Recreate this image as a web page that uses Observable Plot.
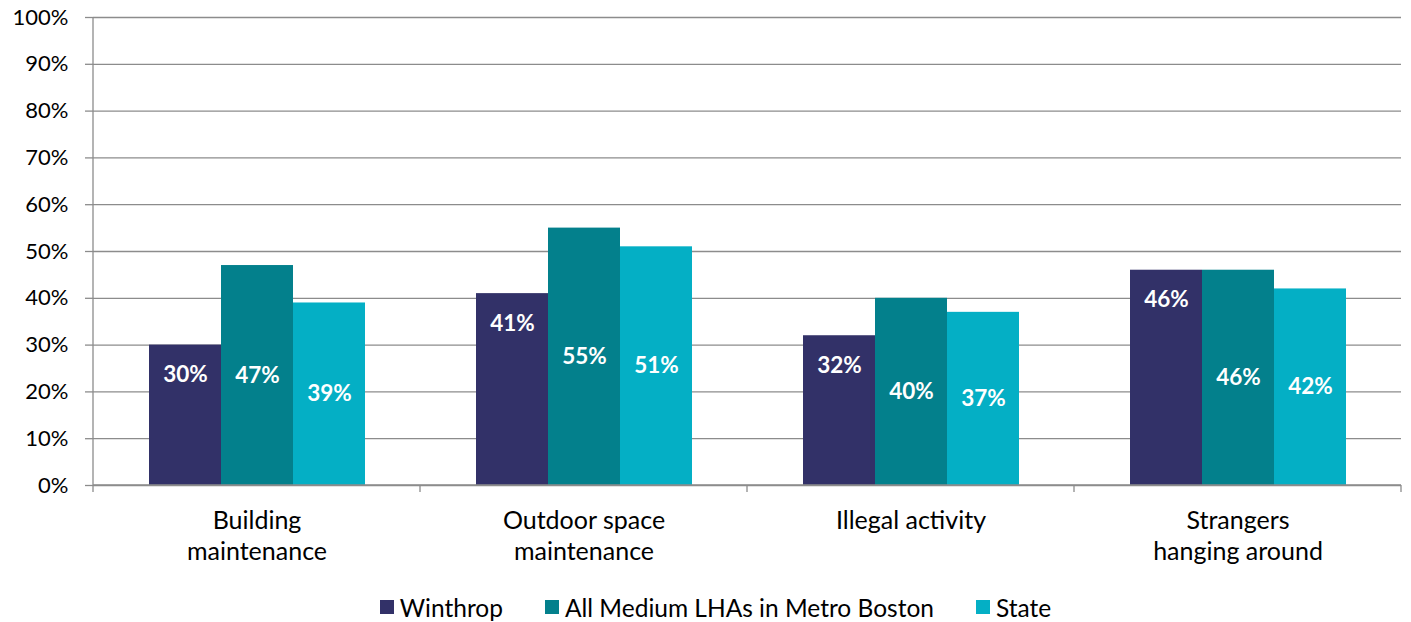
<!DOCTYPE html>
<html><head><meta charset="utf-8">
<script src="https://cdn.jsdelivr.net/npm/d3@7"></script>
<script src="https://cdn.jsdelivr.net/npm/@observablehq/plot@0.6"></script>
<style>
body{margin:0;background:#fff;font-family:Lato,"Open Sans",sans-serif;}
#legend{display:flex;justify-content:center;align-items:center;height:36px;margin-top:3px;font-size:24.5px;color:#000;padding-left:20px;}
.item{display:flex;align-items:center;margin:0 21px;}
.sw{width:14px;height:14px;margin-right:6px;}
</style></head><body>
<div id="chart"></div>
<div id="legend"></div>
<script>
const categories = ["Building maintenance","Outdoor space maintenance","Illegal activity","Strangers hanging around"];
const categoryLabels = ["Building\nmaintenance","Outdoor space\nmaintenance","Illegal activity","Strangers\nhanging around"];
const seriesNames = ["Winthrop","All Medium LHAs in Metro Boston","State"];
const winthrop = [30,41,32,46];
const mediumLHAs = [47,55,40,46];
const state = [39,51,37,42];
const colors = ["#323168","#03808c","#04afc5"];
const yTicks = [0,10,20,30,40,50,60,70,80,90,100];

const seriesValues = [winthrop, mediumLHAs, state];
const rows = [];
categories.forEach((c, i) => seriesNames.forEach((s, j) => rows.push({category: c, series: s, value: seriesValues[j][i]})));
const labelOf = c => categoryLabels[categories.indexOf(c)];

const chart = Plot.plot({
  width: 1411, height: 586,
  marginLeft: 93, marginRight: 10, marginTop: 17, marginBottom: 101,
  style: {fontFamily: "Lato, 'Open Sans', sans-serif", fontSize: "22px", color: "#000", background: "#fff"},
  fx: {domain: categories, padding: 0, label: null, axis: null},
  x: {domain: seriesNames, paddingInner: 0, paddingOuter: 0.74, axis: null},
  y: {domain: [0, 100], axis: null},
  color: {domain: seriesNames, range: colors},
  marks: [
    Plot.ruleY(yTicks, {stroke: "#8c8c8c", strokeWidth: 1.3}),
    Plot.barY(rows, {fx: "category", x: "series", y: "value", fill: "series"}),
    Plot.text(rows.filter(d => d.series === seriesNames[0]), {
      fx: "category", x: "series", y: "value", dy: 30, text: d => d.value + "%",
      fill: "white", fontWeight: "bold", fontSize: 22.5
    }),
    Plot.text(rows.filter(d => d.series !== seriesNames[0]), {
      fx: "category", x: "series", y: d => d.value / 2, text: d => d.value + "%",
      fill: "white", fontWeight: "bold", fontSize: 22.5
    }),
    Plot.axisY({ticks: yTicks, tickFormat: d => d + "%", tickSize: 8, tickPadding: 17, stroke: "#8c8c8c", strokeWidth: 1.3, fill: "#000", label: null, fontSize: 22}),
    Plot.axisFx({anchor: "bottom", tickFormat: labelOf, tickSize: 0, tickPadding: 21, label: null, fontSize: 25, lineHeight: 1.24, fill: "#000"})
  ]
});

// y-axis line and category boundary ticks from the library's scales
const fx = chart.scale("fx"), y = chart.scale("y");
const svg = d3.select(chart);
const y0 = y.apply(0), y100 = y.apply(100);
const xLeft = fx.apply(categories[0]);
const bounds = categories.map(c => fx.apply(c)).concat([fx.apply(categories[categories.length - 1]) + fx.bandwidth]);
const g = svg.append("g").attr("stroke", "#8c8c8c").attr("stroke-width", 1.3);
g.append("line").attr("x1", xLeft).attr("x2", xLeft).attr("y1", y100).attr("y2", y0);
g.append("line").attr("x1", xLeft).attr("x2", bounds[bounds.length - 1]).attr("y1", y0).attr("y2", y0);
bounds.forEach(b => g.append("line").attr("x1", b).attr("x2", b).attr("y1", y0).attr("y2", y0 + 7));

document.getElementById("chart").appendChild(chart);

const legend = document.getElementById("legend");
seriesNames.forEach((s, i) => {
  const it = document.createElement("div"); it.className = "item";
  const sw = document.createElement("div"); sw.className = "sw"; sw.style.background = colors[i];
  const t = document.createElement("span"); t.textContent = s;
  it.appendChild(sw); it.appendChild(t); legend.appendChild(it);
});
</script>
</body></html>
